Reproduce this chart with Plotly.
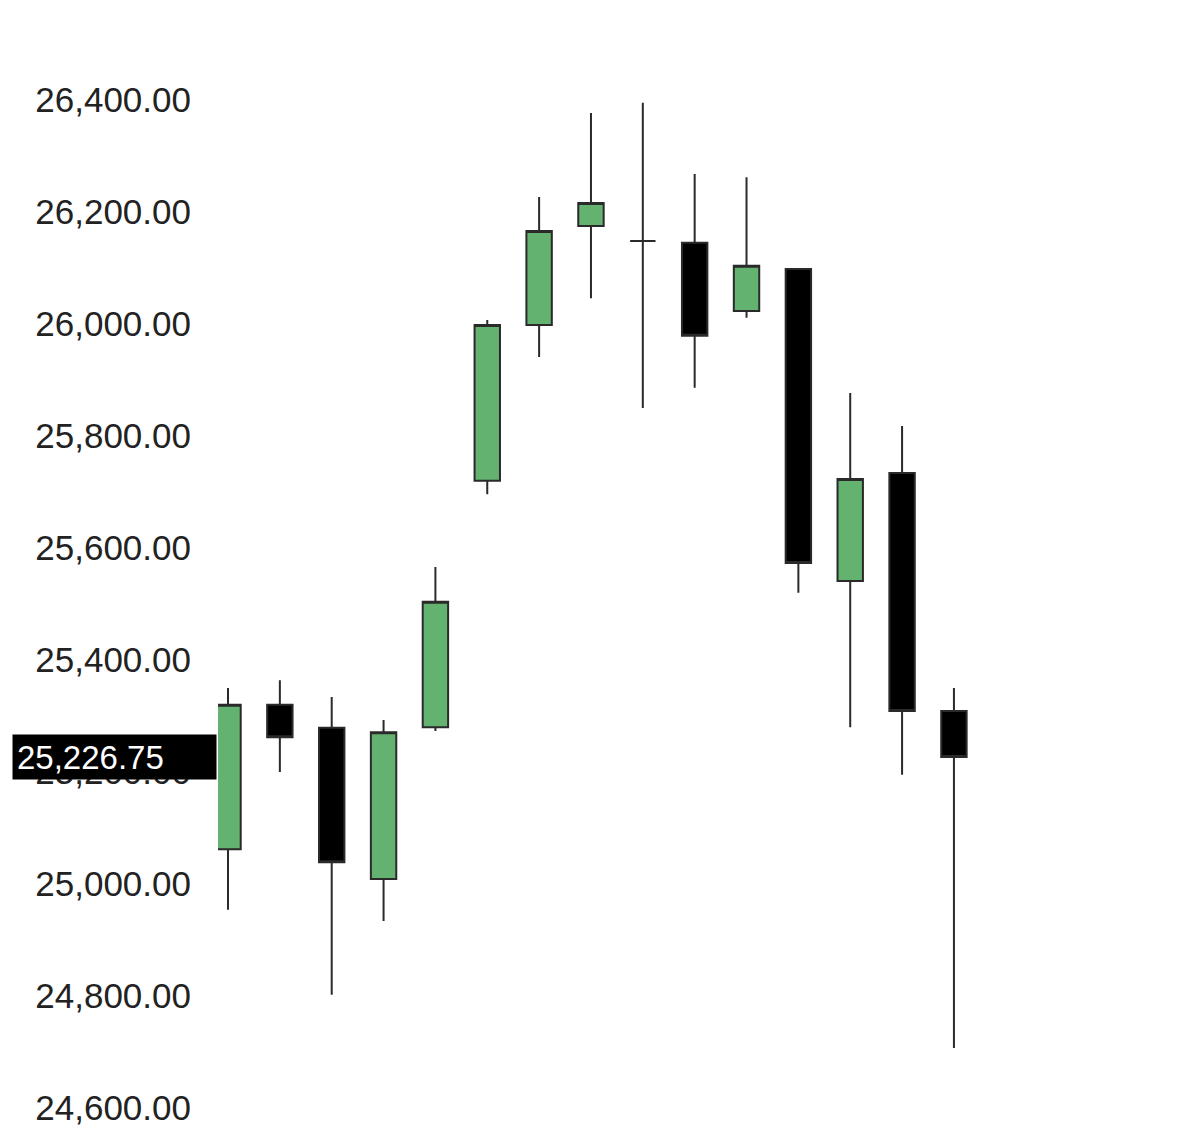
import plotly.graph_objects as go

idx = list(range(15))
opens = [25062, 25320, 25279, 25009, 25280, 25720, 25998, 26175, 26148, 26145, 26023, 26098, 25541, 25734, 25309]
highs = [25350, 25364, 25334, 25293, 25566, 26007, 26227, 26377, 26395, 26268, 26262, 26098, 25877, 25818, 25350]
lows = [24954, 25200, 24802, 24934, 25273, 25696, 25941, 26046, 25850, 25886, 26011, 25520, 25280, 25195, 24707]
closes = [25320, 25262, 25039, 25271, 25504, 25998, 26166, 26216, 26148, 25979, 26104, 25573, 25723, 25309, 25226.75]
tick_vals = [24600, 24800, 25000, 25200, 25400, 25600, 25800, 26000, 26200, 26400, 26600]
last_price = 25226.75

fig = go.Figure()
fig.add_trace(go.Candlestick(
    x=idx, open=opens, high=highs, low=lows, close=closes,
    increasing=dict(fillcolor="#63b26f", line=dict(color="#2a2a2a", width=2)),
    decreasing=dict(fillcolor="#000000", line=dict(color="#2a2a2a", width=2)),
    whiskerwidth=0,
))

# last price tag over the axis
fig.add_annotation(
    xref="paper", yref="y", x=-0.208, y=last_price, xanchor="left",
    text=f"{last_price:,.2f}", showarrow=False, width=195, height=36, align="left",
    font=dict(color="white", size=33, family="Liberation Sans"),
    bgcolor="black", borderpad=4,
)

fig.update_layout(
    width=1200, height=1138,
    margin=dict(l=210, r=0, t=0, b=0),
    plot_bgcolor="white", paper_bgcolor="white",
    showlegend=False,
    font=dict(family="Liberation Sans", size=35, color="#222"),
    xaxis=dict(range=[-0.193, 18.9], visible=False, rangeslider=dict(visible=False)),
    yaxis=dict(range=[24532.1, 26564.3], tickvals=tick_vals,
               ticktext=[f"{v:,.2f}" for v in tick_vals],
               showgrid=False, zeroline=False, ticklabelstandoff=26),
)
fig.write_html("out.html")
